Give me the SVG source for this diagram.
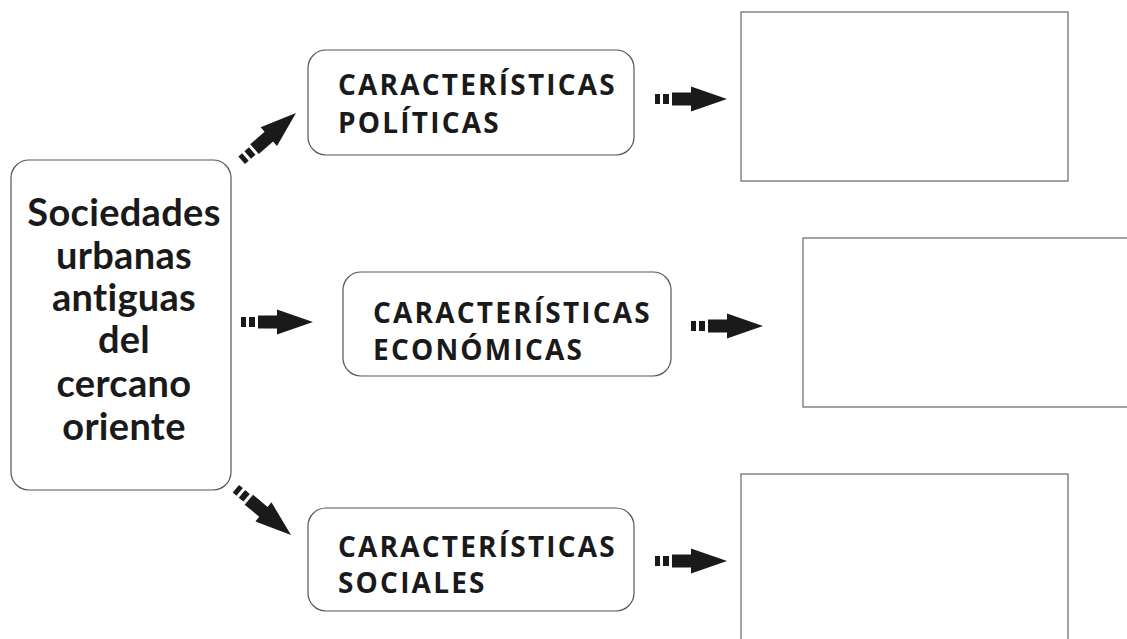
<svg xmlns="http://www.w3.org/2000/svg" width="1127" height="639" viewBox="0 0 1127 639">
<defs>
<style>
.box{fill:#fff;stroke:#555;stroke-width:1.2}
.rect{fill:#fff;stroke:#666;stroke-width:1.2}
.main{font-family:Lato,"Open Sans",sans-serif;font-weight:bold;font-size:38px;fill:#1a1a1a;text-anchor:middle;letter-spacing:0.3px}
.lbl{font-family:"Open Sans",Lato,sans-serif;font-weight:bold;font-size:28px;fill:#1a1a1a;letter-spacing:2.2px}
.arr{fill:#1a1a1a}
</style>
<g id="arrow">
<rect x="-72" y="-5" width="5" height="10"/>
<rect x="-64" y="-5" width="6" height="10"/>
<path d="M-55,-6.5 H-36 V-12.5 L0,0 L-36,12.5 V6.5 H-55 Z"/>
</g>
</defs>
<rect width="1127" height="639" fill="#fff"/>
<g id="main-node">
<rect class="box" x="11" y="160" width="220" height="330" rx="18"/>
<text class="main" x="124" y="226">Sociedades</text>
<text class="main" x="124" y="269">urbanas</text>
<text class="main" x="124" y="311">antiguas</text>
<text class="main" x="124" y="353">del</text>
<text class="main" x="124" y="397">cercano</text>
<text class="main" x="124" y="440">oriente</text>
</g>
<g id="politicas">
<rect class="box" x="308" y="50" width="326" height="105" rx="18"/>
<text class="lbl" x="338" y="95">CARACTERÍSTICAS</text>
<text class="lbl" x="338" y="133">POLÍTICAS</text>
</g>
<g id="economicas">
<rect class="box" x="343" y="272" width="328" height="104" rx="18"/>
<text class="lbl" x="373" y="323">CARACTERÍSTICAS</text>
<text class="lbl" x="373" y="360">ECONÓMICAS</text>
</g>
<g id="sociales">
<rect class="box" x="308" y="508" width="326" height="103" rx="18"/>
<text class="lbl" x="338" y="557">CARACTERÍSTICAS</text>
<text class="lbl" x="338" y="593">SOCIALES</text>
</g>
<g id="out-politicas"><rect class="rect" x="741" y="12" width="327" height="169"/></g>
<g id="out-economicas"><rect class="rect" x="803" y="238" width="340" height="169"/></g>
<g id="out-sociales"><rect class="rect" x="741" y="474" width="327" height="180"/></g>
<g id="connectors" class="arr">
<use href="#arrow" transform="translate(296,113) rotate(-41)"/>
<use href="#arrow" transform="translate(313,322)"/>
<use href="#arrow" transform="translate(291,535) rotate(40)"/>
<use href="#arrow" transform="translate(727,99)"/>
<use href="#arrow" transform="translate(763,326)"/>
<use href="#arrow" transform="translate(727,561)"/>
</g>
</svg>
